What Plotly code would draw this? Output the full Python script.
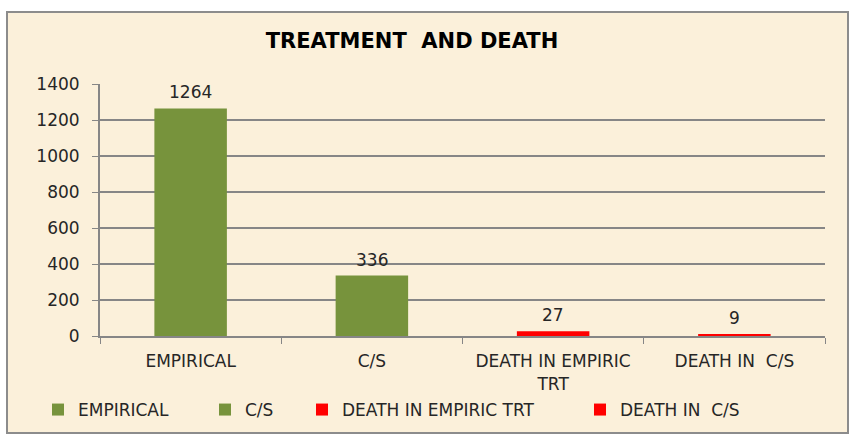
import plotly.graph_objects as go

categories = ["EMPIRICAL", "C/S", "DEATH IN EMPIRIC TRT", "DEATH IN  C/S"]
tick_labels = ["EMPIRICAL", "C/S", "DEATH IN EMPIRIC<br>TRT", "DEATH IN  C/S"]
series_names = ["EMPIRICAL", "C/S", "DEATH IN EMPIRIC TRT", "DEATH IN  C/S"]
values = [1264, 336, 27, 9]
colors = ["#77933C", "#77933C", "#FF0000", "#FF0000"]
y_ticks = [0, 200, 400, 600, 800, 1000, 1200, 1400]

W, H = 851, 438
L, R, T, B = 100, 26, 84, 102
pw, ph = W - L - R, H - T - B

FONT = "'DejaVu Sans', Verdana, sans-serif"
TXT = "#262626"

def px(x):
    return (x - L) / pw

def py(y):
    return (H - B - y) / ph

legend_text_x = [78, 245, 342, 620]
legend_keys = ["legend", "legend2", "legend3", "legend4"]

fig = go.Figure()
for name, cat, val, col, lk in zip(series_names, categories, values, colors, legend_keys):
    fig.add_trace(go.Bar(
        x=[cat], y=[val], name=name,
        marker=dict(color=col, line=dict(width=0)),
        width=0.4, legend=lk,
    ))
    fig.add_annotation(x=cat, y=val, text=str(val), showarrow=False,
                       xref="x", yref="y", yanchor="bottom", yshift=4,
                       font=dict(size=17, color=TXT, family=FONT))

fig.add_shape(type="rect", xref="paper", yref="paper",
              x0=px(7), x1=px(848), y0=py(433), y1=py(12),
              fillcolor="#FBF0DA", line=dict(color="#8C8C8C", width=2),
              layer="below")

legend_common = dict(orientation="h", xanchor="left", yanchor="middle",
                     y=py(410), font=dict(size=17, color=TXT, family=FONT),
                     bgcolor="rgba(0,0,0,0)", itemwidth=30)

layout_legends = {}
for lk, tx in zip(legend_keys, legend_text_x):
    layout_legends[lk] = dict(legend_common, x=px(tx - 40))

fig.update_layout(
    width=W, height=H,
    margin=dict(l=L, r=R, t=T, b=B, pad=0, autoexpand=False),
    paper_bgcolor="white",
    plot_bgcolor="rgba(0,0,0,0)",
    barmode="overlay",
    font=dict(family=FONT, size=17, color=TXT),
    title=dict(text="<b>TREATMENT  AND DEATH</b>", x=412 / W, xref="container",
               xanchor="center", y=1 - 41 / H, yanchor="middle",
               font=dict(size=21, color="#000000", family=FONT)),
    showlegend=True,
    xaxis=dict(
        categoryorder="array", categoryarray=categories,
        tickvals=categories, ticktext=tick_labels,
        showline=True, linecolor="#868686", linewidth=2,
        ticks="outside", tickson="boundaries", ticklen=6, tickcolor="#868686",
        showgrid=False, range=[-0.5, 3.5], ticklabelstandoff=9,
        tickfont=dict(size=17, color=TXT), automargin=False,
    ),
    yaxis=dict(
        range=[0, 1400], tickvals=y_ticks,
        showgrid=True, gridcolor="#868686", gridwidth=2,
        showline=True, linecolor="#868686", linewidth=2,
        ticks="outside", ticklen=6, tickcolor="#868686", ticklabelstandoff=9,
        zeroline=False, tickfont=dict(size=17, color=TXT), automargin=False,
    ),
    **layout_legends,
)

fig.write_html("out.html", config={"displayModeBar": False},
               post_script="document.body.style.margin='0';")
